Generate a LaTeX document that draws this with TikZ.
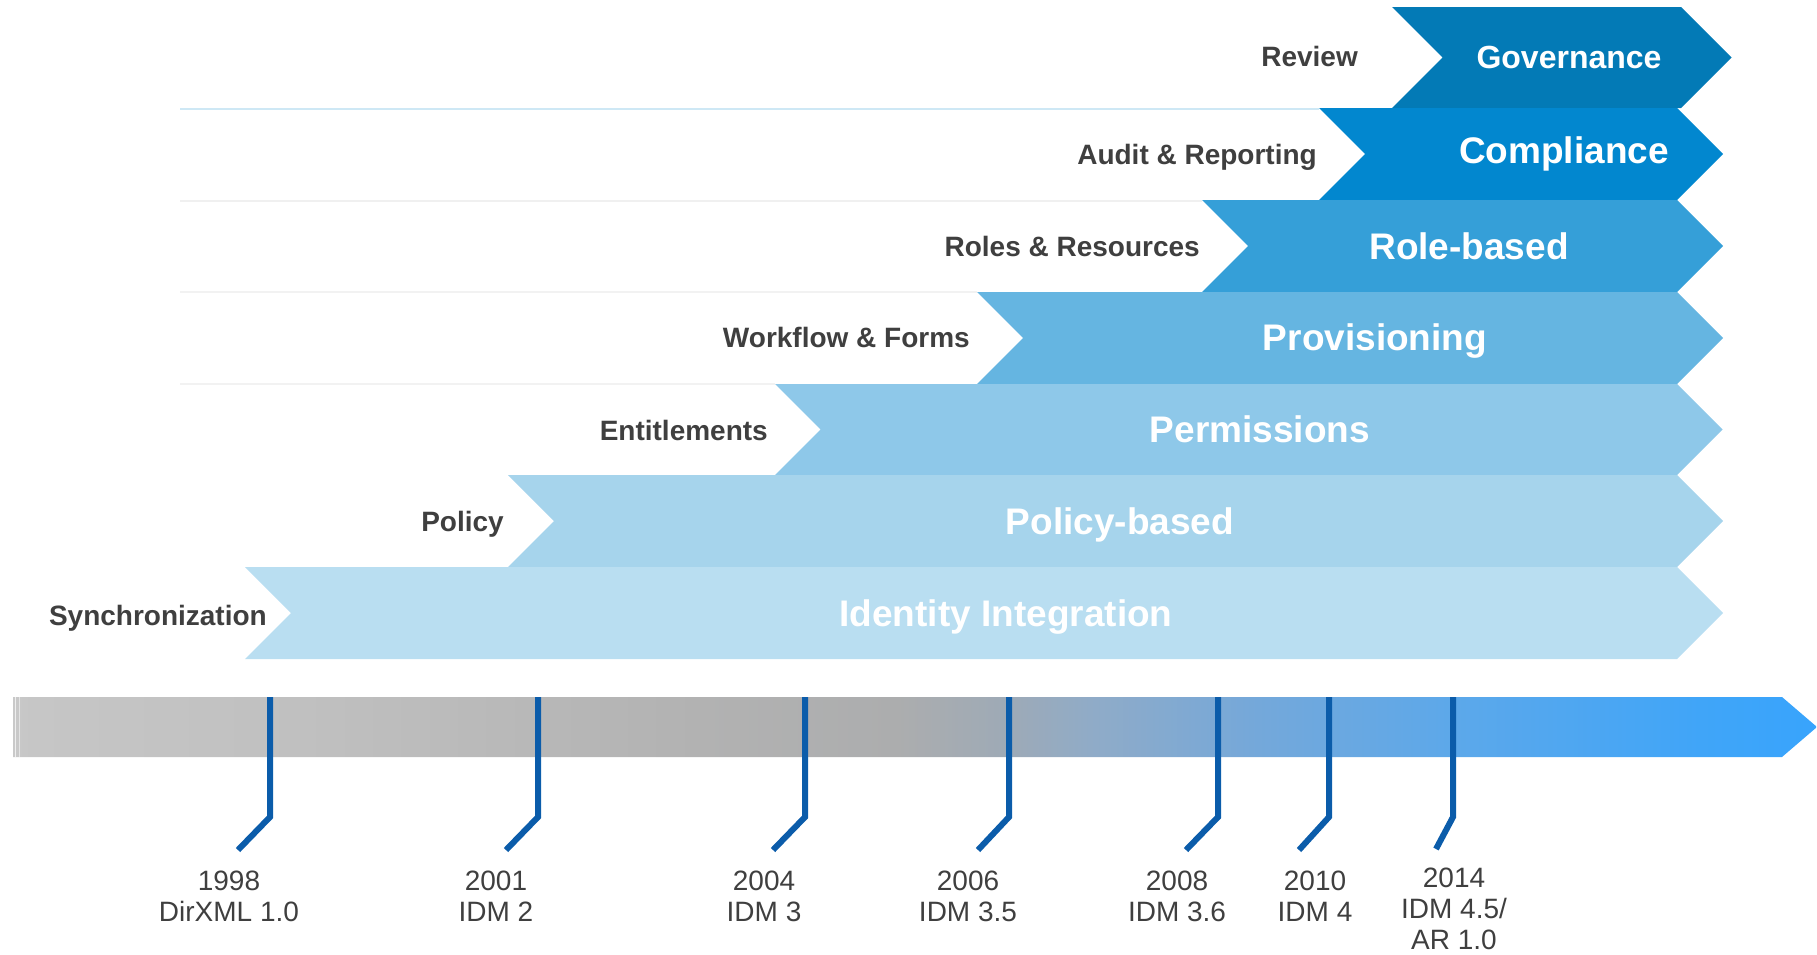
\documentclass[tikz,border=0pt]{standalone}
\usepackage{fontspec}
\setmainfont{Liberation Sans}
\usepackage{tikz}
\usetikzlibrary{positioning}
\usepackage{xcolor}

\definecolor{govblue}{HTML}{037AB6}
\definecolor{compblue}{HTML}{0287CF}
\definecolor{roleblue}{HTML}{359FD8}
\definecolor{provblue}{HTML}{65B5E1}
\definecolor{permblue}{HTML}{8EC8E9}
\definecolor{polblue}{HTML}{A6D4EC}
\definecolor{identblue}{HTML}{B9DEF1}
\definecolor{labelgray}{HTML}{3F3F3F}
\definecolor{tickblue}{HTML}{0B5CAA}
\definecolor{tlA}{HTML}{C9C9C9}
\definecolor{tlB}{HTML}{C6C6C6}
\definecolor{tlC}{HTML}{C0C0C0}
\definecolor{tlD}{HTML}{B2B2B2}
\definecolor{tlE}{HTML}{ACADAE}
\definecolor{tlF}{HTML}{9EAAB6}
\definecolor{tlG}{HTML}{8FABC8}
\definecolor{tlH}{HTML}{74A8DA}
\definecolor{tlI}{HTML}{5CA8EA}
\definecolor{tlJ}{HTML}{40A5F8}
\definecolor{tlK}{HTML}{38A4FC}

\pgfdeclarehorizontalshading{timeline}{100bp}{color(0bp)=(tlA); color(25bp)=(tlA); color(25.5bp)=(tlB); color(33bp)=(tlC); color(44bp)=(tlD); color(49.5bp)=(tlE); color(52.5bp)=(tlF); color(55bp)=(tlG); color(59.5bp)=(tlH); color(65bp)=(tlI); color(71.75bp)=(tlJ); color(75bp)=(tlK); color(100bp)=(tlK)}

\begin{document}
\begin{tikzpicture}[x=1pt,y=-1pt,
    band/.style={text=white,inner sep=0pt,anchor=base,font=\bfseries\fontsize{37}{40}\selectfont},
    stage/.style={text=labelgray,inner sep=0pt,anchor=base east,font=\bfseries\fontsize{28}{30}\selectfont},
    milestone/.style={text=labelgray,inner sep=0pt,anchor=base,align=center,font=\fontsize{28}{31}\selectfont},
    tick/.style={tickblue,line width=6pt}]
  \useasboundingbox (0,0) rectangle (1817,954);

  % faint row lines
  \draw[line width=1.5pt,color=identblue!70] (180,109) -- (1319,109);
  \draw[line width=1.5pt,color=black!6] (180,201) -- (1202,201);
  \draw[line width=1.5pt,color=black!5] (180,292) -- (977,292);
  \draw[line width=1.5pt,color=black!5] (180,384) -- (775,384);

  % stages
  \fill[govblue]   (1392,7) -- (1681,7) -- (1731.5,57.5) -- (1681,108) -- (1392,108) -- (1442.5,57.5) -- cycle;
  \fill[compblue]  (1319,108) -- (1677,108) -- (1723,154) -- (1677,200) -- (1319,200) -- (1365,154) -- cycle;
  \fill[roleblue]  (1202,200) -- (1677,200) -- (1723,246) -- (1677,292) -- (1202,292) -- (1248,246) -- cycle;
  \fill[provblue]  (977,292) -- (1677,292) -- (1723,338) -- (1677,384) -- (977,384) -- (1023,338) -- cycle;
  \fill[permblue]  (775,384) -- (1677,384) -- (1722.5,429.5) -- (1677,475) -- (775,475) -- (820.5,429.5) -- cycle;
  \fill[polblue]   (508,475) -- (1677,475) -- (1723,521) -- (1677,567) -- (508,567) -- (554,521) -- cycle;
  \fill[identblue] (245,567) -- (1677,567) -- (1723,613) -- (1677,659) -- (245,659) -- (291,613) -- cycle;

  \node[band,font=\bfseries\fontsize{32}{34}\selectfont] (gov) at (1569,68) {Governance};
  \node[band] (comp)  at (1564,163) {Compliance};
  \node[band] (role)  at (1469,259) {Role-based};
  \node[band] (prov)  at (1375,350) {Provisioning};
  \node[band] (perm)  at (1260,442) {Permissions};
  \node[band] (pol)   at (1120,534) {Policy-based};
  \node[band] (ident) at (1006,626) {Identity Integration};

  \node[stage] (review) at (1358,66)  {Review};
  \node[stage] (audit)  at (1317,164) {Audit \& Reporting};
  \node[stage] (roles)  at (1200,256) {Roles \& Resources};
  \node[stage] (work)   at (970,347)  {Workflow \& Forms};
  \node[stage] (entit)  at (768,440)  {Entitlements};
  \node[stage] (policy) at (504,531)  {Policy};
  \node[stage] (sync)   at (267,625)  {Synchronization};

  % timeline
  \shade[shading=timeline] (13,697) -- (1782,697) -- (1817,727) -- (1782,757) -- (13,757) -- cycle;
  \draw[white,opacity=0.7,line width=1pt] (15.5,697) -- (15.5,757);
  \draw[white,opacity=0.5,line width=1pt] (19,697) -- (19,757);

  \foreach \x/\d/\e in {270/-32/33, 538/-32/33, 805/-32/33, 1009/-31/33, 1218/-32/33, 1329/-30/33, 1453/-17/32}
    \draw[tick] (\x,697) -- (\x,817) -- ++(\d,\e);

  \node[milestone] (m1) at (229,921)  {1998\\DirXML 1.0};
  \node[milestone] (m2) at (496,921)  {2001\\IDM 2};
  \node[milestone] (m3) at (764,921)  {2004\\IDM 3};
  \node[milestone] (m4) at (968,921)  {2006\\IDM 3.5};
  \node[milestone] (m5) at (1177,921) {2008\\IDM 3.6};
  \node[milestone] (m6) at (1315,921) {2010\\IDM 4};
  \node[milestone] (m7) at (1454,949) {2014\\IDM 4.5/\\AR 1.0};
\end{tikzpicture}
\end{document}
